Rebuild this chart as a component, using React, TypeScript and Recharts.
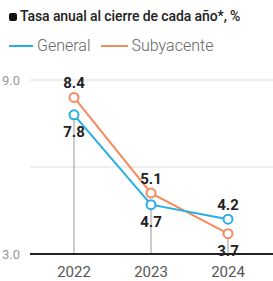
import React from 'react';
import {
  LineChart,
  Line,
  XAxis,
  YAxis,
  CartesianGrid,
  ReferenceLine,
  LabelList
} from 'recharts';

const years = ['2022', '2023', '2024'];
const general = [7.8, 4.7, 4.2];
const subyacente = [8.4, 5.1, 3.7];
const yTicks = [3, 6, 9];

const BLUE = '#2aaee6';
const ORANGE = '#f58a5c';
const FONT = 'Roboto, "Noto Sans", sans-serif';

const data = years.map((year, i) => ({
  year,
  general: general[i],
  subyacente: subyacente[i],
}));

// label goes on the outer side of each pair
const makeLabel = (key: 'general' | 'subyacente') => (props: any) => {
  const { x, y, value, index } = props;
  const other = key === 'general' ? subyacente[index] : general[index];
  const above = value >= other;
  return (
    <text
      x={x}
      y={above ? y - 9 : y + 11}
      dominantBaseline={above ? 'auto' : 'hanging'}
      textAnchor="middle"
      fontFamily={FONT}
      fontWeight={700}
      fontSize={15}
      fill="#222"
    >
      {value.toFixed(1)}
    </text>
  );
};

export default function App() {
  return (
    <div style={{ position: 'fixed', top: 0, left: 0, width: 273, height: 281, background: '#fff', fontFamily: FONT }}>
      <div style={{ position: 'absolute', top: 8, left: 9, fontSize: 14, fontWeight: 500, color: '#222', whiteSpace: 'nowrap', letterSpacing: -0.1 }}>
        <span style={{ display: 'inline-block', width: 8, height: 8, background: '#111', borderRadius: 2, marginRight: 3, verticalAlign: 0 }} />
        Tasa anual al cierre de cada año*, %
      </div>
      <div style={{ position: 'absolute', top: 36, left: 9, fontSize: 16, fontWeight: 300, color: '#666', whiteSpace: 'nowrap', display: 'flex', alignItems: 'center' }}>
        <span style={{ display: 'inline-block', width: 24, height: 2, background: BLUE, marginRight: 4 }} />
        <span>General</span>
        <span style={{ display: 'inline-block', width: 27, height: 2, background: ORANGE, marginLeft: 10, marginRight: 4 }} />
        <span>Subyacente</span>
      </div>
      <div style={{ position: 'absolute', top: 0, left: 0 }}>
        <LineChart width={273} height={281} data={data} margin={{ top: 80, right: 0, bottom: 0, left: 0 }}>
          <CartesianGrid vertical={false} stroke="#dcdcdc" />
          <XAxis
            dataKey="year"
            height={27}
            padding={{ left: 44, right: 45 }}
            axisLine={{ stroke: '#222', strokeWidth: 2 }}
            tickLine={false}
            tick={{ fill: '#555', fontSize: 15, fontFamily: FONT }}
            tickMargin={6}
          />
          <YAxis
            width={30}
            domain={[3, 9]}
            ticks={yTicks}
            axisLine={false}
            tickLine={false}
            tick={{ fill: '#999', fontSize: 13, fontFamily: FONT }}
            tickFormatter={(v: number) => (v === 6 ? '' : v.toFixed(1))}
            tickMargin={4}
          />
          {years.map((yr, i) => (
            <ReferenceLine
              key={yr}
              segment={[
                { x: yr, y: 3 },
                { x: yr, y: Math.min(general[i], subyacente[i]) },
              ]}
              stroke="#999"
              strokeWidth={1}
            />
          ))}
          <Line
            dataKey="subyacente"
            stroke={ORANGE}
            strokeWidth={2}
            dot={{ r: 4.5, fill: '#fff', stroke: ORANGE, strokeWidth: 2 }}
            isAnimationActive={false}
          >
            <LabelList dataKey="subyacente" content={makeLabel('subyacente')} />
          </Line>
          <Line
            dataKey="general"
            stroke={BLUE}
            strokeWidth={2}
            dot={{ r: 4.5, fill: '#fff', stroke: BLUE, strokeWidth: 2 }}
            isAnimationActive={false}
          >
            <LabelList dataKey="general" content={makeLabel('general')} />
          </Line>
        </LineChart>
      </div>
    </div>
  );
}
